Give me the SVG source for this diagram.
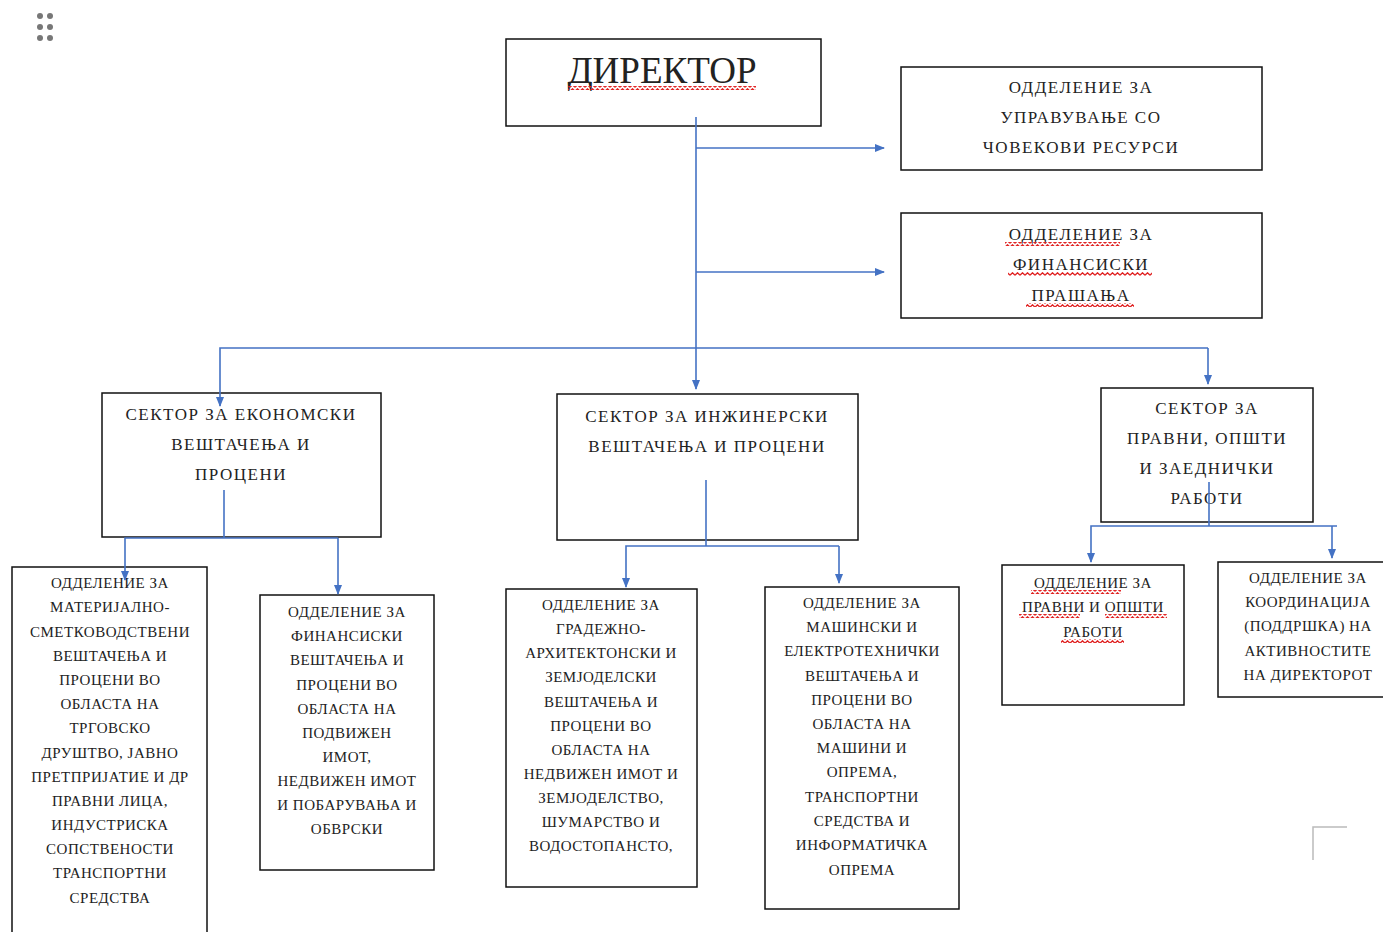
<svg xmlns="http://www.w3.org/2000/svg" width="1383" height="932" viewBox="0 0 1383 932">
<style>
.box{fill:#fff;stroke:#111;stroke-width:1.5}
.t{font-family:"Liberation Serif","Times New Roman",serif;fill:#222;text-anchor:middle}
.big{font-size:37px}
.m{font-size:17px;letter-spacing:1.5px}
.s{font-size:15px;letter-spacing:0.5px}
.c{fill:none;stroke:#4472C4;stroke-width:1.6}
.wv{fill:url(#wave)}
</style>
<defs>
<marker id="ah" markerWidth="10" markerHeight="10" refX="9" refY="5" orient="auto" markerUnits="userSpaceOnUse">
<path d="M0,1 L10,5 L0,9 Z" fill="#4472C4"/>
</marker>
<pattern id="wave" width="5" height="4" patternUnits="userSpaceOnUse">
<path d="M0,3.2 L2.5,0.8 L5,3.2" fill="none" stroke="#e02020" stroke-width="1.3"/>
</pattern>
</defs>
<g id="handle" fill="#777">
<circle cx="40" cy="16" r="3"/><circle cx="50" cy="16" r="3"/>
<circle cx="40" cy="27" r="3"/><circle cx="50" cy="27" r="3"/>
<circle cx="40" cy="38" r="3"/><circle cx="50" cy="38" r="3"/>
</g>
<g id="director">
<rect class="box" x="506" y="39" width="315" height="87"/>
<text class="t big" x="662" y="83">ДИРЕКТОР</text>
<rect class="wv" x="568" y="86" width="188" height="4"/>
</g>
<g id="hr">
<rect class="box" x="901" y="67" width="361" height="103"/>
<text class="t m" x="1081" y="93">ОДДЕЛЕНИЕ ЗА</text>
<text class="t m" x="1081" y="123">УПРАВУВАЊЕ СО</text>
<text class="t m" x="1081" y="153">ЧОВЕКОВИ РЕСУРСИ</text>
</g>
<g id="finance">
<rect class="box" x="901" y="213" width="361" height="105"/>
<text class="t m" x="1081" y="240">ОДДЕЛЕНИЕ ЗА</text>
<text class="t m" x="1081" y="270">ФИНАНСИСКИ</text>
<text class="t m" x="1081" y="301">ПРАШАЊА</text>
<rect class="wv" x="1005" y="242" width="115" height="4"/>
<rect class="wv" x="1008" y="272" width="144" height="4"/>
<rect class="wv" x="1026" y="303" width="108" height="4"/>
</g>
<g id="sector-econ">
<rect class="box" x="102" y="393" width="279" height="144"/>
<text class="t m" x="241" y="420">СЕКТОР ЗА ЕКОНОМСКИ</text>
<text class="t m" x="241" y="450">ВЕШТАЧЕЊА И</text>
<text class="t m" x="241" y="480">ПРОЦЕНИ</text>
</g>
<g id="sector-eng">
<rect class="box" x="557" y="394" width="301" height="146"/>
<text class="t m" x="707" y="422">СЕКТОР ЗА ИНЖИНЕРСКИ</text>
<text class="t m" x="707" y="452">ВЕШТАЧЕЊА И ПРОЦЕНИ</text>
</g>
<g id="sector-legal">
<rect class="box" x="1101" y="388" width="212" height="134"/>
<text class="t m" x="1207" y="414">СЕКТОР ЗА</text>
<text class="t m" x="1207" y="444">ПРАВНИ, ОПШТИ</text>
<text class="t m" x="1207" y="474">И ЗАЕДНИЧКИ</text>
<text class="t m" x="1207" y="504">РАБОТИ</text>
</g>
<g id="dept-material">
<rect class="box" x="12" y="567" width="195" height="380"/>
<text class="t s" x="110" y="588">ОДДЕЛЕНИЕ ЗА</text>
<text class="t s" x="110" y="612">МАТЕРИЈАЛНО-</text>
<text class="t s" x="110" y="637">СМЕТКОВОДСТВЕНИ</text>
<text class="t s" x="110" y="661">ВЕШТАЧЕЊА И</text>
<text class="t s" x="110" y="685">ПРОЦЕНИ ВО</text>
<text class="t s" x="110" y="709">ОБЛАСТА НА</text>
<text class="t s" x="110" y="733">ТРГОВСКО</text>
<text class="t s" x="110" y="758">ДРУШТВО, ЈАВНО</text>
<text class="t s" x="110" y="782">ПРЕТПРИЈАТИЕ И ДР</text>
<text class="t s" x="110" y="806">ПРАВНИ ЛИЦА,</text>
<text class="t s" x="110" y="830">ИНДУСТРИСКА</text>
<text class="t s" x="110" y="854">СОПСТВЕНОСТИ</text>
<text class="t s" x="110" y="878">ТРАНСПОРТНИ</text>
<text class="t s" x="110" y="903">СРЕДСТВА</text>
</g>
<g id="dept-fin">
<rect class="box" x="260" y="595" width="174" height="275"/>
<text class="t s" x="347" y="617">ОДДЕЛЕНИЕ ЗА</text>
<text class="t s" x="347" y="641">ФИНАНСИСКИ</text>
<text class="t s" x="347" y="665">ВЕШТАЧЕЊА И</text>
<text class="t s" x="347" y="690">ПРОЦЕНИ ВО</text>
<text class="t s" x="347" y="714">ОБЛАСТА НА</text>
<text class="t s" x="347" y="738">ПОДВИЖЕН</text>
<text class="t s" x="347" y="762">ИМОТ,</text>
<text class="t s" x="347" y="786">НЕДВИЖЕН ИМОТ</text>
<text class="t s" x="347" y="810">И ПОБАРУВАЊА И</text>
<text class="t s" x="347" y="834">ОБВРСКИ</text>
</g>
<g id="dept-build">
<rect class="box" x="506" y="589" width="191" height="298"/>
<text class="t s" x="601" y="610">ОДДЕЛЕНИЕ ЗА</text>
<text class="t s" x="601" y="634">ГРАДЕЖНО-</text>
<text class="t s" x="601" y="658">АРХИТЕКТОНСКИ И</text>
<text class="t s" x="601" y="682">ЗЕМЈОДЕЛСКИ</text>
<text class="t s" x="601" y="707">ВЕШТАЧЕЊА И</text>
<text class="t s" x="601" y="731">ПРОЦЕНИ ВО</text>
<text class="t s" x="601" y="755">ОБЛАСТА НА</text>
<text class="t s" x="601" y="779">НЕДВИЖЕН ИМОТ И</text>
<text class="t s" x="601" y="803">ЗЕМЈОДЕЛСТВО,</text>
<text class="t s" x="601" y="827">ШУМАРСТВО И</text>
<text class="t s" x="601" y="851">ВОДОСТОПАНСТО,</text>
</g>
<g id="dept-mech">
<rect class="box" x="765" y="587" width="194" height="322"/>
<text class="t s" x="862" y="608">ОДДЕЛЕНИЕ ЗА</text>
<text class="t s" x="862" y="632">МАШИНСКИ И</text>
<text class="t s" x="862" y="656">ЕЛЕКТРОТЕХНИЧКИ</text>
<text class="t s" x="862" y="681">ВЕШТАЧЕЊА И</text>
<text class="t s" x="862" y="705">ПРОЦЕНИ ВО</text>
<text class="t s" x="862" y="729">ОБЛАСТА НА</text>
<text class="t s" x="862" y="753">МАШИНИ И</text>
<text class="t s" x="862" y="777">ОПРЕМА,</text>
<text class="t s" x="862" y="802">ТРАНСПОРТНИ</text>
<text class="t s" x="862" y="826">СРЕДСТВА И</text>
<text class="t s" x="862" y="850">ИНФОРМАТИЧКА</text>
<text class="t s" x="862" y="875">ОПРЕМА</text>
</g>
<g id="dept-legal">
<rect class="box" x="1002" y="565" width="182" height="140"/>
<text class="t s" x="1093" y="588">ОДДЕЛЕНИЕ ЗА</text>
<text class="t s" x="1093" y="612">ПРАВНИ И ОПШТИ</text>
<text class="t s" x="1093" y="637">РАБОТИ</text>
<rect class="wv" x="1031" y="590" width="90" height="4"/>
<rect class="wv" x="1019" y="614" width="61" height="4"/>
<rect class="wv" x="1105" y="614" width="62" height="4"/>
<rect class="wv" x="1061" y="639" width="63" height="4"/>
</g>
<g id="dept-coord">
<rect class="box" x="1218" y="562" width="180" height="135"/>
<text class="t s" x="1308" y="583">ОДДЕЛЕНИЕ ЗА</text>
<text class="t s" x="1308" y="607">КООРДИНАЦИЈА</text>
<text class="t s" x="1308" y="631">(ПОДДРШКА) НА</text>
<text class="t s" x="1308" y="656">АКТИВНОСТИТЕ</text>
<text class="t s" x="1308" y="680">НА ДИРЕКТОРОТ</text>
</g>
<g id="connectors">
<path class="c" d="M696,117 V389" marker-end="url(#ah)"/>
<path class="c" d="M696,148 H884" marker-end="url(#ah)"/>
<path class="c" d="M696,272 H884" marker-end="url(#ah)"/>
<path class="c" d="M1208,348 H220 V406" marker-end="url(#ah)"/>
<path class="c" d="M1208,348 V384" marker-end="url(#ah)"/>
<path class="c" d="M224,490 V538"/>
<path class="c" d="M338,538 H125 V580" marker-end="url(#ah)"/>
<path class="c" d="M338,538 V594" marker-end="url(#ah)"/>
<path class="c" d="M706,480 V546"/>
<path class="c" d="M839,546 H626 V587" marker-end="url(#ah)"/>
<path class="c" d="M839,546 V583" marker-end="url(#ah)"/>
<path class="c" d="M1209,482 V526"/>
<path class="c" d="M1337,526 H1091 V562" marker-end="url(#ah)"/>
<path class="c" d="M1332,526 V558" marker-end="url(#ah)"/>
</g>
<path d="M1313,860 V827 H1347" fill="none" stroke="#bbb" stroke-width="1.5"/>
</svg>
